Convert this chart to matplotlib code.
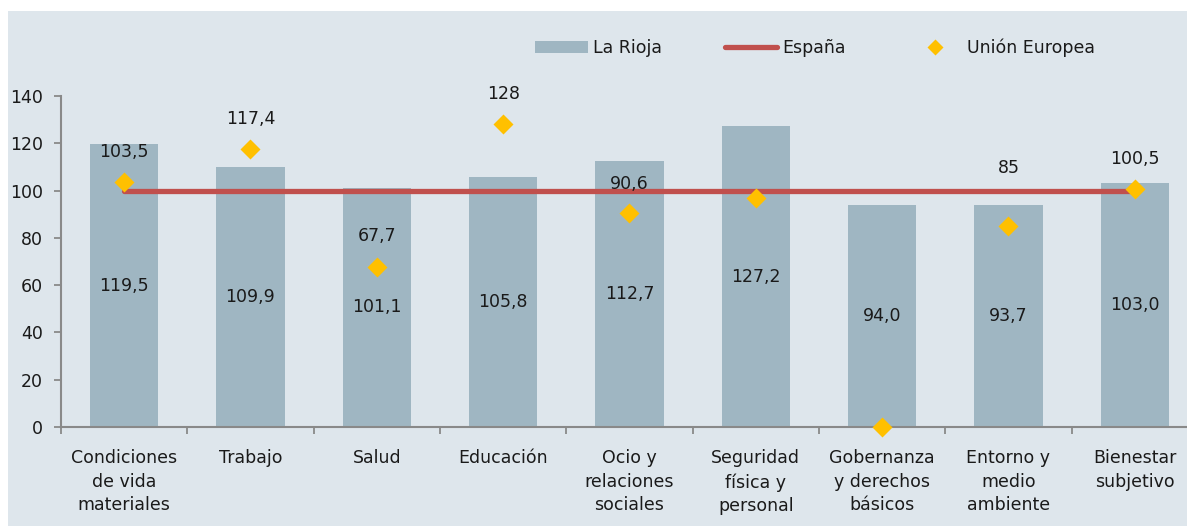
import matplotlib

matplotlib.use("Agg")
import matplotlib.pyplot as plt  # noqa: E402
import numpy as np  # noqa: E402
from matplotlib.lines import Line2D  # noqa: E402
from matplotlib.patches import Patch, Rectangle  # noqa: E402

categories = [
    "Condiciones\nde vida\nmateriales", "Trabajo", "Salud", "Educación",
    "Ocio y\nrelaciones\nsociales", "Seguridad\nfísica y\npersonal",
    "Gobernanza\ny derechos\nbásicos", "Entorno y\nmedio\nambiente", "Bienestar\nsubjetivo",
]
la_rioja = [119.5, 109.9, 101.1, 105.8, 112.7, 127.2, 94.0, 93.7, 103.0]
espana = [100, 100, 100, 100, 100, 100, 100, 100, 100]
union_europea = [103.5, 117.4, 67.7, 128.0, 90.6, 97.0, 0.0, 85.0, 100.5]
# which EU points carry a label (and how far above the marker, in points)
eu_label_offset = [22, 22, 22, 22, 21, None, None, 42, 22]

BG = "#DEE6EC"
BAR = "#9FB6C2"
RED = "#C0504D"
GOLD = "#FFC000"
AXIS = "#898989"
TXT = "#1A1A1A"
FS = 12.5


def fmt(v: float) -> str:
    return f"{v:g}".replace(".", ",")


fig = plt.figure(figsize=(11.87, 5.26), dpi=100, facecolor="white")
fig.patches.append(Rectangle((8 / 1187, 0), 1, 1 - 11 / 526, transform=fig.transFigure,
                             facecolor=BG, edgecolor="none", zorder=-10))

ax = fig.add_axes([61 / 1187, 1 - 427 / 526, 1137 / 1187, 331 / 526])
ax.set_facecolor("none")
x = np.arange(len(categories))

ax.bar(x, la_rioja, width=0.54, color=BAR, zorder=2)
ax.plot(x, espana, color=RED, lw=3.8, solid_capstyle="round", zorder=3)
ax.plot(x, union_europea, "D", color=GOLD, ms=10.5, mec="none", zorder=4, clip_on=False)

for xi, v in zip(x, la_rioja):
    ax.text(xi, v / 2, f"{v:.1f}".replace(".", ","), ha="center", va="center",
            fontsize=FS, color=TXT, zorder=5)
for xi, v, off in zip(x, union_europea, eu_label_offset):
    if off is None:
        continue
    ax.annotate(fmt(v), (xi, v), xytext=(0, off), textcoords="offset points",
                ha="center", va="center", fontsize=FS, color=TXT, zorder=5)

ax.set_xlim(-0.5, len(categories) - 0.5)
ax.set_ylim(0, 140)
ax.set_yticks(range(0, 141, 20))
ax.set_xticks(np.arange(-0.5, len(categories), 1.0))
ax.set_xticklabels([])
ax.set_xticks(x, minor=True)
ax.set_xticklabels(categories, minor=True, fontsize=FS, color=TXT, linespacing=1.4)
ax.tick_params(axis="x", which="minor", length=0, pad=16)
ax.tick_params(axis="x", which="major", length=5, width=1.3, color=AXIS)
ax.tick_params(axis="y", length=5, width=1.3, color=AXIS, pad=8, labelsize=FS, labelcolor=TXT)
for s in ("top", "right"):
    ax.spines[s].set_visible(False)
for s in ("left", "bottom"):
    ax.spines[s].set_color(AXIS)
    ax.spines[s].set_linewidth(1.5)

handles = [
    Patch(facecolor=BAR, edgecolor="none"),
    Line2D([], [], color=RED, lw=3.8, solid_capstyle="round"),
    Line2D([], [], ls="none", marker="D", color=GOLD, ms=8, mec="none"),
]
fig.legend(handles, ["La Rioja", "España", "Unión Europea"], ncol=3, frameon=False,
           loc="center", bbox_to_anchor=(815 / 1187, 1 - 48 / 526), fontsize=FS,
           handlelength=3.0, handletextpad=0.3, columnspacing=3.65, labelcolor=TXT)

fig.savefig("out.png", dpi=100, facecolor="white")
